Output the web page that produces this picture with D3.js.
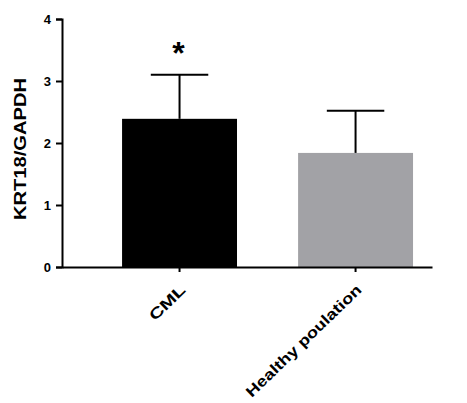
<!DOCTYPE html>
<html>
<head>
<meta charset="utf-8">
<script src="https://cdn.jsdelivr.net/npm/d3@7"></script>
<style>
  body { margin: 0; background: #fff; }
  svg { font-family: "Liberation Sans", Arial, sans-serif; font-weight: bold; }
</style>
</head>
<body>
<svg id="chart" width="467" height="403"></svg>
<script>
// data
var categories = ["CML", "Healthy poulation"];
var means = [2.39, 1.84];
var errors = [0.71, 0.68];
var barColors = ["#000000", "#a2a2a6"];
var marks = ["*", ""];
var yTicks = [0, 1, 2, 3, 4];

var svg = d3.select("#chart");
var LEFT = 62, RIGHT = 432, TOP = 19, BOTTOM = 267;

var x = d3.scaleBand()
  .domain(categories)
  .range([LEFT, RIGHT])
  .paddingInner(0.347)
  .paddingOuter(0.2245)
  .align(0.76);

var y = d3.scaleLinear().domain([0, 4]).range([BOTTOM, TOP]);

// bars
svg.selectAll("rect.bar")
  .data(categories)
  .enter().append("rect")
  .attr("class", "bar")
  .attr("x", function (d) { return x(d); })
  .attr("width", x.bandwidth())
  .attr("y", function (d, i) { return y(means[i]); })
  .attr("height", function (d, i) { return y(0) - y(means[i]); })
  .attr("fill", function (d, i) { return barColors[i]; });

// error bars (upper only)
var capHalf = x.bandwidth() * 0.25;
categories.forEach(function (d, i) {
  var cx = x(d) + x.bandwidth() / 2;
  svg.append("line")
    .attr("x1", cx).attr("x2", cx)
    .attr("y1", y(means[i])).attr("y2", y(means[i] + errors[i]))
    .attr("stroke", "#000").attr("stroke-width", 2);
  svg.append("line")
    .attr("x1", cx - capHalf).attr("x2", cx + capHalf)
    .attr("y1", y(means[i] + errors[i])).attr("y2", y(means[i] + errors[i]))
    .attr("stroke", "#000").attr("stroke-width", 2);
  if (marks[i]) {
    svg.append("text")
      .attr("x", cx - 1)
      .attr("y", y(means[i] + errors[i]) - 11)
      .attr("text-anchor", "middle")
      .style("font-size", "32px")
      .text(marks[i]);
  }
});

// y axis
var yAxis = svg.append("g")
  .attr("transform", "translate(" + LEFT + ",0)")
  .call(d3.axisLeft(y).tickValues(yTicks).tickFormat(d3.format("d")).tickSize(6).tickPadding(5));

// x axis
var xAxis = svg.append("g")
  .attr("transform", "translate(0," + BOTTOM + ")")
  .call(d3.axisBottom(x).tickSize(5).tickSizeOuter(0));

[yAxis, xAxis].forEach(function (g) {
  g.select(".domain").attr("stroke", "#000").attr("stroke-width", 2);
  g.selectAll(".tick line").attr("stroke", "#000").attr("stroke-width", 2);
  g.selectAll("text").attr("fill", "#000")
    .style("font-family", "Liberation Sans, Arial, sans-serif")
    .style("font-weight", "bold")
    .style("font-size", "13px");
});

// stretched like the source picture
var labelLengths = [44, 154];
xAxis.selectAll(".tick text")
  .attr("text-anchor", "end")
  .attr("y", 0).attr("dx", 0).attr("dy", 0)
  .attr("transform", "translate(7,24) rotate(-44)")
  .attr("textLength", function (d, i) { return labelLengths[i]; })
  .attr("lengthAdjust", "spacingAndGlyphs")
  .style("font-size", "15px");

// y axis title
svg.append("text")
  .attr("transform", "translate(26," + ((TOP + BOTTOM) / 2 + 6) + ") rotate(-90)")
  .attr("text-anchor", "middle")
  .attr("textLength", 142)
  .attr("lengthAdjust", "spacingAndGlyphs")
  .style("font-size", "16px")
  .text("KRT18/GAPDH");
</script>
</body>
</html>
